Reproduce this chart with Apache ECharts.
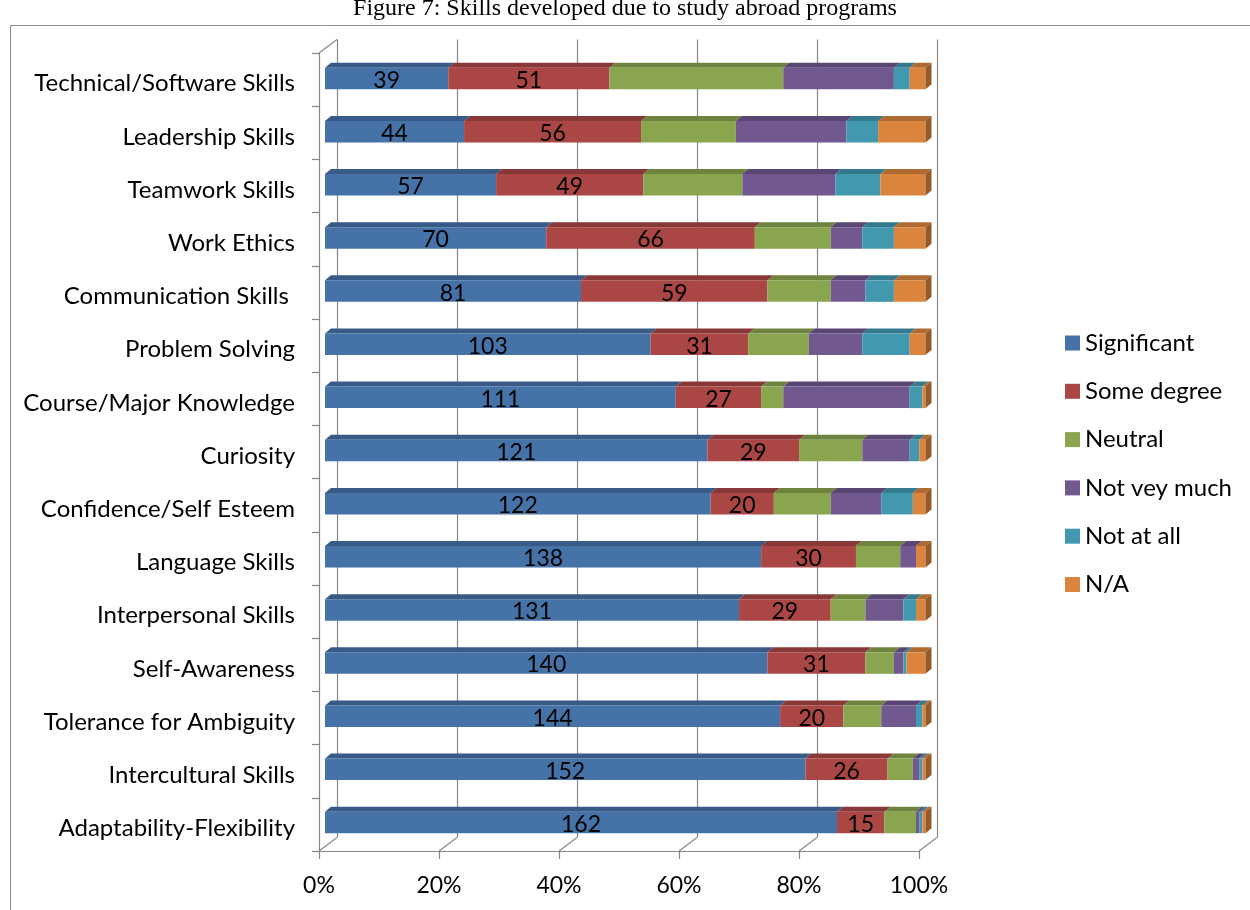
<!DOCTYPE html>
<html>
<head>
<meta charset="utf-8">
<script src="https://cdn.jsdelivr.net/npm/echarts@6/dist/echarts.min.js"></script>
<style>
  html, body { margin: 0; padding: 0; background: #fff; }
  #chart { width: 1250px; height: 910px; }
</style>
</head>
<body>
<div id="chart"></div>
<script>
// Skills developed due to study abroad programs (respondent counts per skill)
const categories = [
  'Technical/Software Skills', 'Leadership Skills', 'Teamwork Skills', 'Work Ethics',
  'Communication Skills ', 'Problem Solving', 'Course/Major Knowledge', 'Curiosity',
  'Confidence/Self Esteem', 'Language Skills', 'Interpersonal Skills', 'Self-Awareness',
  'Tolerance for Ambiguity', 'Intercultural Skills', 'Adaptability-Flexibility'
];
const significant = [39, 44, 57, 70, 81, 103, 111, 121, 122, 138, 131, 140, 144, 152, 162];
const someDegree  = [51, 56, 49, 66, 59, 31, 27, 29, 20, 30, 29, 31, 20, 26, 15];
const neutral     = [55, 30, 33, 24, 20, 19, 7, 20, 18, 14, 11, 9, 12, 8, 10];
const notVeryMuch = [35, 35, 31, 10, 11, 17, 40, 15, 16, 5, 12, 3, 11, 2, 1];
const notAtAll    = [5, 10, 15, 10, 9, 15, 4, 3, 10, 0, 4, 1, 2, 1, 1];
const notApplicable = [5, 15, 15, 10, 10, 5, 1, 2, 4, 3, 3, 6, 1, 1, 1];
const seriesNames = ['Significant', 'Some degree', 'Neutral', 'Not vey much', 'Not at all', 'N/A'];
const xTicks = [0, 20, 40, 60, 80, 100];

const seriesValues = [significant, someDegree, neutral, notVeryMuch, notAtAll, notApplicable];
const labelled = [true, true, false, false, false, false];
const colors = ['#4572A7', '#AA4643', '#89A54E', '#71588F', '#4198AF', '#DB843D'];

const FONT = 'Lato, "Open Sans", sans-serif';
const BAR_H = 21.5;            // front face height of a bar
const BAR_DX = 6, BAR_DY = 5;  // bar depth
const WALL_DX = 18, WALL_DY = 13.5; // depth of the walls and floor
const GRID_COLOR = '#878787';

function shade(hex, k) {
  const n = parseInt(hex.slice(1), 16);
  const r = Math.round(((n >> 16) & 255) * k);
  const g = Math.round(((n >> 8) & 255) * k);
  const b = Math.round((n & 255) * k);
  return 'rgb(' + r + ',' + g + ',' + b + ')';
}

// stacked percentages per row
const totals = categories.map((_, i) => seriesValues.reduce((s, arr) => s + arr[i], 0));
const running = categories.map(() => 0);
const stacked = seriesValues.map(arr => arr.map((v, i) => {
  const start = running[i] / totals[i] * 100;
  running[i] += v;
  const end = running[i] / totals[i] * 100;
  return [start, end, i, v];
}));

function barRenderer(si) {
  const color = colors[si];
  const topColor = shade(color, 0.8);
  const sideColor = shade(color, 0.68);
  const isLast = si === seriesValues.length - 1;
  return function (params, api) {
    const a = api.coord([api.value(0), api.value(2)]);
    const b = api.coord([api.value(1), api.value(2)]);
    const top = a[1] - BAR_H / 2;
    const children = [];
    children.push({
      type: 'polygon',
      shape: { points: [[a[0], top], [b[0], top], [b[0] + BAR_DX, top - BAR_DY], [a[0] + BAR_DX, top - BAR_DY]] },
      style: { fill: topColor }
    });
    children.push({
      type: 'rect',
      shape: { x: a[0], y: top, width: Math.max(0, b[0] - a[0]), height: BAR_H },
      style: { fill: color }
    });
    if (isLast) {
      children.push({
        type: 'polygon',
        shape: { points: [[b[0], top], [b[0] + BAR_DX, top - BAR_DY], [b[0] + BAR_DX, top + BAR_H - BAR_DY], [b[0], top + BAR_H]] },
        style: { fill: sideColor }
      });
    }
    if (labelled[si]) {
      children.push({
        type: 'text',
        style: {
          text: String(api.value(3)), x: (a[0] + b[0]) / 2, y: a[1] + 2,
          align: 'center', verticalAlign: 'middle',
          fill: '#000', font: '23px ' + FONT
        }
      });
    }
    return { type: 'group', children: children };
  };
}

// slanted edges joining the front floor/wall to the back wall
function depthRenderer(params, api) {
  const v = api.value(0);
  const band = api.size([0, 1])[1];
  const bottom = api.coord([v, categories.length - 1]);
  const y = bottom[1] + band / 2;
  const children = [{
    type: 'line',
    shape: { x1: bottom[0], y1: y, x2: bottom[0] + WALL_DX, y2: y - WALL_DY },
    style: { stroke: GRID_COLOR, lineWidth: 1.2 }
  }];
  if (v === 0) {
    const topP = api.coord([0, 0]);
    const yt = topP[1] - band / 2;
    children.push({
      type: 'line',
      shape: { x1: topP[0], y1: yt, x2: topP[0] + WALL_DX, y2: yt - WALL_DY },
      style: { stroke: GRID_COLOR, lineWidth: 1.2 }
    });
  }
  return { type: 'group', children: children };
}

const FRONT = { left: 319, top: 53, width: 600, height: 798 };

const series = seriesValues.map((_, si) => ({
  name: seriesNames[si],
  type: 'custom',
  xAxisIndex: 2, yAxisIndex: 2,
  renderItem: barRenderer(si),
  itemStyle: { color: colors[si] },
  encode: { x: [0, 1], y: 2 },
  data: stacked[si],
  z: 5
}));
series.unshift({
  type: 'custom',
  xAxisIndex: 1, yAxisIndex: 1,
  renderItem: depthRenderer,
  data: xTicks.map(v => [v, 0]),
  encode: { x: 0, y: 1 },
  silent: true,
  z: 1
});

const chart = echarts.init(document.getElementById('chart'), null, { renderer: 'canvas' });
chart.setOption({
  backgroundColor: '#fff',
  animation: false,
  title: {
    text: 'Figure 7: Skills developed due to study abroad programs',
    left: 'center', top: -8,
    textStyle: { fontFamily: '"Liberation Serif", "Times New Roman", serif', fontSize: 24, fontWeight: 'normal', color: '#000' }
  },
  graphic: [{
    type: 'rect', silent: true, z: -10,
    shape: { x: 10.5, y: 25.5, width: 1400, height: 1000 },
    style: { fill: null, stroke: '#8c8c8c', lineWidth: 1 }
  }],
  legend: {
    orient: 'vertical',
    left: 1060, top: 326,
    itemWidth: 15, itemHeight: 15, itemGap: 24.3,
    icon: 'rect',
    data: seriesNames,
    textStyle: { fontFamily: FONT, fontSize: 24, lineHeight: 24, color: '#000' }
  },
  grid: [
    // back wall
    { left: FRONT.left + WALL_DX, top: FRONT.top - WALL_DY, width: FRONT.width, height: FRONT.height },
    // front edges of floor and side wall
    { left: FRONT.left, top: FRONT.top, width: FRONT.width, height: FRONT.height },
    // bars, set slightly into the depth
    { left: 325, top: 52, width: 600.5, height: 797 }
  ],
  xAxis: [
    { gridIndex: 0, type: 'value', min: 0, max: 100, interval: 20,
      axisLine: { show: false }, axisTick: { show: false }, axisLabel: { show: false },
      splitLine: { show: true, lineStyle: { color: GRID_COLOR, width: 1.2 } } },
    { gridIndex: 1, type: 'value', min: 0, max: 100, interval: 20,
      axisLine: { show: true, lineStyle: { color: GRID_COLOR, width: 1.2 } },
      axisTick: { show: true, length: 8, lineStyle: { color: GRID_COLOR, width: 1.2 } },
      splitLine: { show: false },
      axisLabel: { formatter: '{value}%', fontFamily: FONT, fontSize: 23, color: '#000', margin: 23 } },
    { gridIndex: 2, type: 'value', min: 0, max: 100, show: false }
  ],
  yAxis: [
    { gridIndex: 0, type: 'value', show: false },
    { gridIndex: 1, type: 'category', inverse: true, data: categories,
      axisLine: { show: true, lineStyle: { color: GRID_COLOR, width: 1.2 } },
      axisTick: { show: true, length: 7, lineStyle: { color: GRID_COLOR, width: 1.2 } },
      splitLine: { show: false },
      axisLabel: { fontFamily: FONT, fontSize: 24, color: '#000', margin: 24, verticalAlign: 'top', lineHeight: 8 } },
    { gridIndex: 2, type: 'category', inverse: true, data: categories, show: false }
  ],
  series: series
});
</script>
</body>
</html>
